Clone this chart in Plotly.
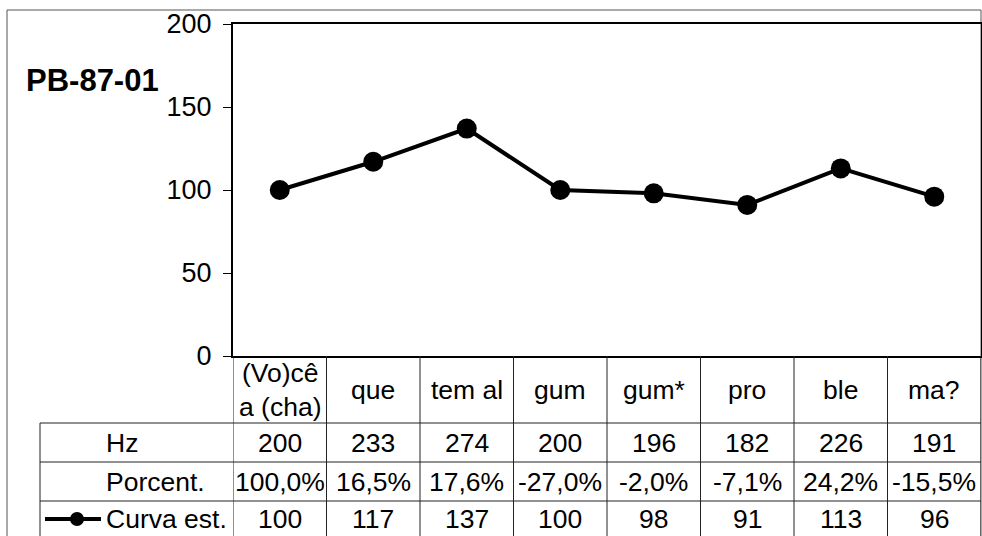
import plotly.graph_objects as go

categories = ["(Vo)cê<br>a (cha)", "que", "tem al", "gum", "gum*", "pro", "ble", "ma?"]
hz = [200, 233, 274, 200, 196, 182, 226, 191]
porcent = ["100,0%", "16,5%", "17,6%", "-27,0%", "-2,0%", "-7,1%", "24,2%", "-15,5%"]
curva = [100, 117, 137, 100, 98, 91, 113, 96]
y_ticks = [0, 50, 100, 150, 200]
row_labels = ["Hz", "Porcent.", "Curva est."]
title = "PB-87-01"

W, H = 982, 536
FONT = "Liberation Sans, Arial, sans-serif"
FS = 26.5
TFS = 27


def px(x):
    return x / W


def py(y):
    return 1 - y / H


x_idx = list(range(len(categories)))

fig = go.Figure()
fig.add_trace(go.Scatter(
    x=x_idx, y=curva, mode="lines+markers",
    line=dict(color="black", width=4),
    marker=dict(size=20, color="black"),
    showlegend=False, cliponaxis=False, hoverinfo="skip",
))

plot_left, plot_right, plot_top, plot_bottom = 233, 981, 24, 356
row_edges = [plot_bottom, 423, 462, 501, 540]
table_left = 40

fig.update_layout(
    width=W, height=H,
    margin=dict(l=0, r=0, t=0, b=0, autoexpand=False),
    paper_bgcolor="white", plot_bgcolor="white",
    font=dict(family=FONT, size=FS, color="black"),
    xaxis=dict(
        domain=[px(plot_left), px(plot_right)],
        range=[-0.5, len(categories) - 0.5],
        showticklabels=False, ticks="", showgrid=False, zeroline=False,
        showline=True, linecolor="black", linewidth=2, mirror=True,
        fixedrange=True, automargin=False,
    ),
    yaxis=dict(
        domain=[py(plot_bottom), py(plot_top)],
        range=[0, 200],
        tickvals=y_ticks, ticks="outside", ticklen=8, tickwidth=1,
        tickcolor="black", showgrid=False, zeroline=False,
        showline=True, linecolor="black", linewidth=2, mirror=True,
        tickfont=dict(family=FONT, size=TFS, color="black"),
        ticklabelstandoff=6,
        fixedrange=True, automargin=False,
    ),
    showlegend=False,
)

shapes = []
line_col = "#222222"
# outer frame
shapes.append(dict(type="rect", xref="paper", yref="paper",
                   x0=px(7), x1=px(981), y0=-0.02, y1=py(10),
                   line=dict(color="#555555", width=1), layer="below"))
# horizontal table lines
for y in row_edges[1:4]:
    shapes.append(dict(type="line", xref="paper", yref="paper",
                       x0=px(table_left), x1=px(plot_right), y0=py(y), y1=py(y),
                       line=dict(color=line_col, width=1)))
# left border of table data rows
shapes.append(dict(type="line", xref="paper", yref="paper",
                   x0=px(table_left), x1=px(table_left), y0=py(row_edges[1]), y1=-0.02,
                   line=dict(color=line_col, width=1)))
# column separators
for i in range(len(categories) + 1):
    shapes.append(dict(type="line", xref="x", yref="paper",
                       x0=i - 0.5, x1=i - 0.5, y0=py(plot_bottom), y1=-0.02,
                       line=dict(color=line_col, width=1)))
# legend key in the series row
ky = 519
shapes.append(dict(type="line", xref="paper", yref="paper",
                   x0=px(45), x1=px(101), y0=py(ky), y1=py(ky),
                   line=dict(color="black", width=4)))
shapes.append(dict(type="circle", xref="paper", yref="paper",
                   x0=px(70), x1=px(84), y0=py(ky + 7), y1=py(ky - 7),
                   fillcolor="black", line=dict(color="black", width=0)))

ann = []
ann.append(dict(text="<b>" + title + "</b>", xref="paper", yref="paper",
                x=px(24), y=py(80), xanchor="left", yanchor="middle",
                showarrow=False, font=dict(family=FONT, size=31, color="black")))
# category labels
cat_y = (row_edges[0] + row_edges[1]) / 2
for i, c in enumerate(categories):
    ann.append(dict(text=c, xref="x", yref="paper", x=i, y=py(cat_y),
                    xanchor="center", yanchor="middle", showarrow=False,
                    font=dict(family=FONT, size=FS, color="black")))
# data rows
rows = [[str(v) for v in hz], porcent, [str(v) for v in curva]]
for r, (lab, vals) in enumerate(zip(row_labels, rows)):
    yc = (row_edges[r + 1] + row_edges[r + 2]) / 2
    if r == 2:
        yc = 519
    ann.append(dict(text=lab, xref="paper", yref="paper", x=px(104), y=py(yc),
                    xanchor="left", yanchor="middle", showarrow=False,
                    font=dict(family=FONT, size=FS, color="black")))
    for i, v in enumerate(vals):
        ann.append(dict(text=v, xref="x", yref="paper", x=i, y=py(yc),
                        xanchor="center", yanchor="middle", showarrow=False,
                        font=dict(family=FONT, size=FS, color="black")))

fig.update_layout(shapes=shapes, annotations=ann)
fig.write_html("out.html", config={"displayModeBar": False},
               post_script="document.body.style.margin='0';")
